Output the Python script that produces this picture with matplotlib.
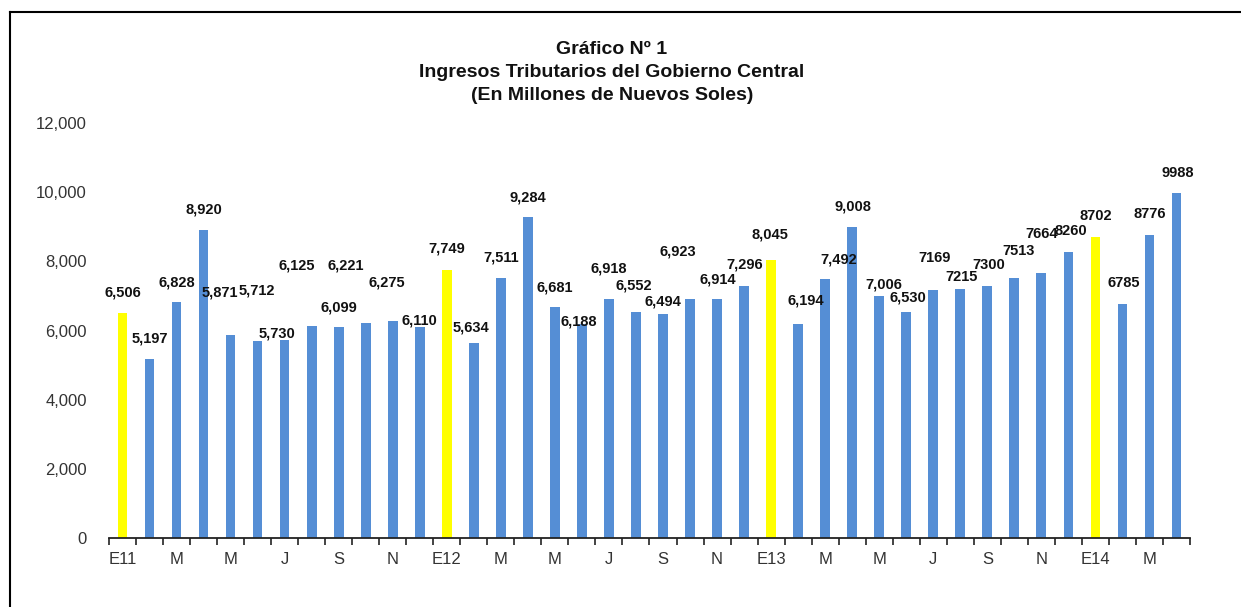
"""Monthly tax revenue of the central government, Jan 2011 - Apr 2014.

Bar chart in the Excel style of the source report: every January is
highlighted in yellow, data labels sit above each bar (nudged by hand where
they would collide), and the category axis only labels every second month.

Output:
    out.png
"""

import matplotlib.pyplot as plt
from matplotlib.lines import Line2D
from matplotlib.ticker import FuncFormatter, MultipleLocator

plt.rcParams["font.family"] = ["Liberation Sans", "DejaVu Sans"]

# S/. millions, one entry per month starting at January 2011
VALUES_2011 = [6506, 5197, 6828, 8920, 5871, 5712, 5730, 6125, 6099, 6221, 6275, 6110]
VALUES_2012 = [7749, 5634, 7511, 9284, 6681, 6188, 6918, 6552, 6494, 6923, 6914, 7296]
VALUES_2013 = [8045, 6194, 7492, 9008, 7006, 6530, 7169, 7215, 7300, 7513, 7664, 8260]
VALUES_2014 = [8702, 6785, 8776, 9988]
VALUES = VALUES_2011 + VALUES_2012 + VALUES_2013 + VALUES_2014

# the later months were typed in without the thousands separator
N_COMMA_LABELS = 30

# every second month gets a label on the axis
TICK_LABELS = ["E11", "M", "M", "J", "S", "N",
               "E12", "M", "M", "J", "S", "N",
               "E13", "M", "M", "J", "S", "N",
               "E14", "M"]

TITLE = ("Gráfico Nº 1\n"
         "Ingresos Tributarios del Gobierno Central\n"
         "(En Millones de Nuevos Soles)")

BLUE = "#558ed5"
YELLOW = "#ffff00"

# hand placement of the data labels: (dx, dy) in pixels from the bar top
LABEL_OFFSETS = [
    (0, 21), (0, 20), (0, 20), (0, 20), (-11, 43), (-1, 50), (-8, 7), (-15, 61),
    (0, 20), (-20, 58), (-6, 39), (0, 6), (0, 22), (-3, 16), (0, 21), (0, 20),
    (0, 20), (-3, 3), (0, 30), (-2, 26), (0, 12), (-12, 47), (1, 20), (1, 21),
    (-1, 25), (8, 24), (14, 20), (1, 20), (5, 11), (2, 15), (1, 32), (1, 12),
    (1, 21), (4, 27), (0, 39), (2, 21), (0, 21), (1, 21), (0, 21), (1, 20),
]


def fmt_label(i, v):
    return f"{v:,}" if i < N_COMMA_LABELS else f"{v}"


def main():
    fig = plt.figure(figsize=(12.41, 6.07), dpi=100)
    ax = fig.add_axes([0.0878, 0.1129, 0.8711, 0.6845])

    x = list(range(len(VALUES)))
    colours = [YELLOW if i % 12 == 0 else BLUE for i in x]
    bars = ax.bar(x, VALUES, width=0.36, color=colours, zorder=2)

    for i, (rect, v) in enumerate(zip(bars, VALUES)):
        dx, dy = LABEL_OFFSETS[i]
        ax.annotate(fmt_label(i, v),
                    xy=(rect.get_x() + rect.get_width() / 2, v),
                    xytext=(dx, dy), textcoords="offset pixels",
                    ha="center", va="center", fontsize=10.5,
                    fontweight="bold", color="#111111")

    ax.set_xlim(-0.5, len(VALUES) - 0.5)
    ax.set_ylim(0, 12000)

    # Excel-style category axis: ticks at the boundaries, labels on bars
    ax.set_xticks(range(0, len(VALUES), 2))
    ax.set_xticklabels(TICK_LABELS)
    ax.set_xticks([i - 0.5 for i in range(len(VALUES) + 1)], minor=True)
    ax.tick_params(axis="x", which="major", length=0, pad=9.5,
                   labelsize=12, labelcolor="#333333")
    ax.tick_params(axis="x", which="minor", length=5, width=1.2,
                   direction="out", color="#222222")

    ax.yaxis.set_major_locator(MultipleLocator(2000))
    ax.yaxis.set_major_formatter(FuncFormatter(lambda v, _: f"{int(v):,}"))
    ax.tick_params(axis="y", length=0, pad=16, labelsize=12,
                   labelcolor="#333333")

    for side in ("top", "right", "left"):
        ax.spines[side].set_visible(False)
    ax.spines["bottom"].set_linewidth(1.3)
    ax.spines["bottom"].set_color("#222222")

    fig.text(0.493, 0.881, TITLE, ha="center", va="center", fontsize=14,
             fontweight="bold", linespacing=1.45, color="#111111")

    # chart-area frame, only the top and left edges are inside the page
    fig.add_artist(Line2D([10 / 1241, 10 / 1241], [0, 1 - 12 / 607],
                          transform=fig.transFigure, color="black", lw=1.5))
    fig.add_artist(Line2D([10 / 1241, 1], [1 - 12 / 607, 1 - 12 / 607],
                          transform=fig.transFigure, color="black", lw=1.5))

    fig.savefig("out.png", dpi=100)


if __name__ == "__main__":
    main()
